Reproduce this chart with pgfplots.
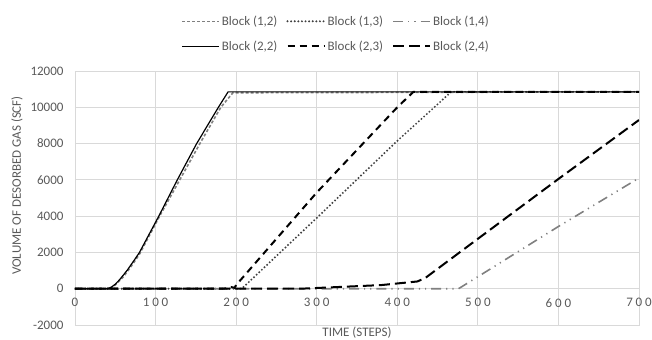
\documentclass[border=0pt]{standalone}
\usepackage{fontspec}
\setmainfont{Carlito}
\usepackage{pgfplots}
\pgfplotsset{compat=1.18}
\definecolor{gridc}{HTML}{D9D9D9}
\definecolor{txt}{HTML}{595959}
\definecolor{lg}{HTML}{808080}
\begin{document}
\begin{tikzpicture}
\begin{axis}[
  scale only axis, width=564bp, height=254bp,
  xmin=0, xmax=700, ymin=-2000, ymax=12000,
  xtick={0,100,...,700}, ytick={-2000,0,...,12000},
  xticklabels={0,100,200,300,400,500,600,700},
  grid=major, major grid style={gridc, line width=0.8bp},
  axis line style={gridc, line width=0.8bp},
  major tick length=0pt,
  /pgf/number format/assume math mode=true,
  scaled ticks=false, /pgf/number format/set thousands separator={},
  tick label style={font=\fontsize{13bp}{15bp}\selectfont, text=txt},
  x tick label style={yshift=30bp, font=\fontsize{13bp}{15bp}\selectfont\addfontfeatures{LetterSpace=22}},
  y tick label style={xshift=-8bp},
  xlabel={TIME (STEPS)}, ylabel={VOLUME OF DESORBED GAS (SCF)},
  label style={font=\fontsize{13bp}{15bp}\selectfont, text=txt},
  xlabel style={at={(axis description cs:0.5,-0.03)}, anchor=center},
  ylabel style={at={(axis description cs:-0.103,0.549)}, anchor=center},
  legend columns=3,
  legend style={draw=none, fill=none, at={(0.5,1)}, anchor=south, xshift=-21bp, yshift=15bp,
    font=\fontsize{13bp}{15bp}\selectfont, text=txt, row sep=10bp,
    /tikz/every even column/.append style={column sep=7bp}},
  legend image code/.code={\draw[#1] (0bp,0bp) -- (37bp,0bp);},
]
\addplot[lg, line width=1.6bp, dash pattern=on 3bp off 2bp] coordinates {
 (0,0) (42,0) (50,200) (60,650) (70,1250) (80,1900) (105,4000) (130,6000) (155,8000) (181,10000) (196,10800) (700,10850)};
\addlegendentry{Block (1,2)}
\addplot[black!75, line width=2.2bp, dash pattern=on 0bp off 3.6bp, line cap=round] coordinates {
 (0,0) (207,0) (300,3900) (400,8150) (467,10850) (700,10850)};
\addlegendentry{Block (1,3)}
\addplot[lg, line width=1.6bp, dash pattern=on 10bp off 5bp on 1.2bp off 5bp on 1.2bp off 5bp] coordinates {
 (0,0) (476,0) (500,660) (600,3430) (700,6100)};
\addlegendentry{Block (1,4)}
\addplot[black, line width=1.2bp, line join=round] coordinates {
 (0,0) (40,0) (45,80) (50,250) (55,480) (60,750) (65,1030) (70,1350) (75,1670) (80,2000) (104,4000) (127,6000) (151,8000) (178,10000) (190,10850) (700,10850)};
\addlegendentry{Block (2,2)}
\addplot[black, line width=2bp, dash pattern=on 7bp off 5bp] coordinates {
 (0,0) (185,0) (193,100) (198,50) (200,200) (300,5300) (400,10000) (420,10850) (700,10850)};
\addlegendentry{Block (2,3)}
\addplot[black, line width=2bp, dash pattern=on 11bp off 5bp] coordinates {
 (0,0) (280,0) (330,100) (380,200) (425,400) (435,600) (500,2750) (600,6050) (700,9300)};
\addlegendentry{Block (2,4)}
\end{axis}
\pgfresetboundingbox
\useasboundingbox ([xshift=-75bp,yshift=-15bp]current axis.south west) rectangle ([xshift=13bp,yshift=71bp]current axis.north east);
\end{tikzpicture}
\end{document}
